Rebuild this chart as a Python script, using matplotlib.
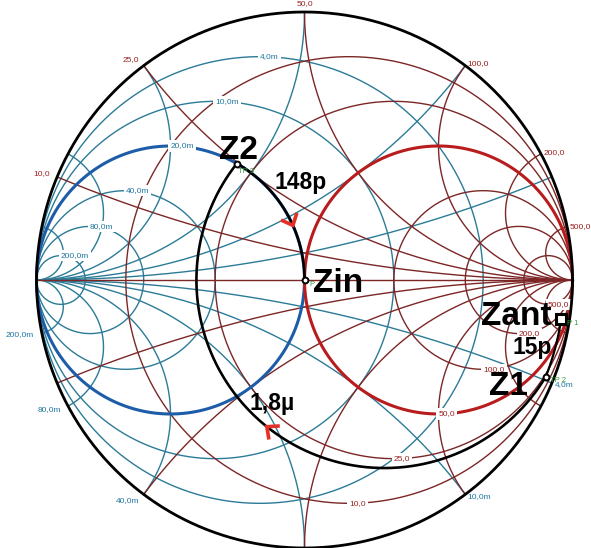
import numpy as np
import matplotlib
matplotlib.use("Agg")
import matplotlib.pyplot as plt

# ---------------- data ----------------
Z0 = 50.0                          # reference impedance, ohm
FREQ_HZ = 25e6                     # operating frequency
Z_ANT = complex(136.1, -640.7)     # antenna impedance, ohm

POINT_NAMES = ["Zant", "Z1", "Z2", "Zin"]
POINT_TAGS = ["P 1", "TP 2", "TP 3", "P"]
COMPONENT_TYPES = ["shunt_C", "series_L", "shunt_C"]
COMPONENT_VALUES = [15e-12, 1.8e-6, 148e-12]
COMPONENT_LABELS = ["15p", "1,8µ", "148p"]

GRID_R_OHM = [10.0, 25.0, 50.0, 100.0, 200.0, 500.0]
GRID_X_OHM = [10.0, 25.0, 50.0, 100.0, 200.0, 500.0]
GRID_G_MS = [4.0, 10.0, 20.0, 40.0, 80.0, 200.0]
GRID_B_MS = [4.0, 10.0, 20.0, 40.0, 80.0, 200.0]

# ---------------- style ----------------
RED = "#7c2626"
BLUE = "#2b7b97"
RED_LBL = "#9c2020"
BLUE_LBL = "#1f76a0"
RED_THICK = "#b81c1c"
BLUE_THICK = "#1d5ca8"
GREEN = "#3a9a3a"
ARROW = "#e5302a"
FONT = "Liberation Sans"

W, H = 591, 548
CX, CY, RAD = 304.5, 280.0, 268.0


def px(x, y):
    """pixel position -> chart (reflection coefficient) coordinates"""
    return (x - CX) / RAD, (CY - y) / RAD


def gz(z):
    return (z - 1) / (z + 1)


def gy(y):
    return (1 - y) / (1 + y)


def fmt(v, unit=""):
    return f"{v:.1f}".replace(".", ",") + unit


fig = plt.figure(figsize=(W / 100, H / 100), dpi=100)
ax = fig.add_axes([0, 0, 1, 1])
ax.set_xlim(-CX / RAD, (W - CX) / RAD)
ax.set_ylim(-(H - CY) / RAD, CY / RAD)
ax.set_aspect("equal")
ax.axis("off")

full = np.tan(np.linspace(-np.pi / 2 + 1e-4, np.pi / 2 - 1e-4, 3000))
half = np.tan(np.linspace(0, np.pi / 2 - 1e-4, 2000))

# ---------------- admittance grid ----------------
for gm in GRID_G_MS:
    gn = gm / 1000 * Z0
    c = gy(gn + 1j * full)
    thick = abs(gn - 1) < 1e-9
    ax.plot(c.real, c.imag, color=BLUE_THICK if thick else BLUE,
            lw=2.2 if thick else 1.0, zorder=2 if thick else 1, solid_capstyle="round")
for bm in GRID_B_MS:
    bn = bm / 1000 * Z0
    for s in (1, -1):
        c = gy(half + 1j * s * bn)
        ax.plot(c.real, c.imag, color=BLUE, lw=1.0, zorder=1)

# ---------------- impedance grid ----------------
for r in GRID_R_OHM:
    rn = r / Z0
    c = gz(rn + 1j * full)
    thick = abs(rn - 1) < 1e-9
    ax.plot(c.real, c.imag, color=RED_THICK if thick else RED,
            lw=2.2 if thick else 1.0, zorder=2.1 if thick else 1.1)
for x in GRID_X_OHM:
    xn = x / Z0
    for s in (1, -1):
        c = gz(half + 1j * s * xn)
        ax.plot(c.real, c.imag, color=RED, lw=1.0, zorder=1.1)
ax.plot([-1, 1], [0, 0], color=RED, lw=1.0, zorder=1.1)

# outer boundary
th = np.linspace(0, 2 * np.pi, 1000)
ax.plot(np.cos(th), np.sin(th), color="black", lw=2.0, zorder=4)

# ---------------- grid labels ----------------
box = dict(boxstyle="square,pad=0.25", fc="white", ec="none")
lbl = dict(fontsize=6.0, family=FONT, zorder=3)
for r in GRID_R_OHM:
    rn = r / Z0
    ax.text(rn / (1 + rn), -1 / (1 + rn), fmt(r), color=RED_LBL, ha="left",
            va="center", bbox=box, **lbl)
for gm in GRID_G_MS:
    gn = gm / 1000 * Z0
    ax.text(-gn / (1 + gn), 1 / (1 + gn), fmt(gm, "m"), color=BLUE_LBL, ha="left",
            va="center", bbox=box, **lbl)


def outer_label(p, text, color):
    gap = 8 if p.real < 0.5 else 3
    q = p * (1 + gap / RAD)
    if q.imag < -1.0:
        return
    ha = "right" if p.real < -0.15 else ("left" if p.real > 0.15 else "center")
    ax.text(q.real, q.imag, text, color=color, ha=ha, va="center", **lbl)


for x in GRID_X_OHM:
    outer_label(gz(1j * x / Z0), fmt(x), RED_LBL)
for bm in GRID_B_MS:
    outer_label(gy(1j * bm / 1000 * Z0), fmt(bm, "m"), BLUE_LBL)

# ---------------- matching path ----------------
w = 2 * np.pi * FREQ_HZ
z = Z_ANT / Z0
points = [z]
paths = []
t = np.linspace(0, 1, 500)
for kind, val in zip(COMPONENT_TYPES, COMPONENT_VALUES):
    if kind == "shunt_C":
        ys = 1 / z + 1j * w * val * Z0 * t
        trace = gy(ys)
        z = 1 / ys[-1]
    else:
        zs = z + 1j * w * val / Z0 * t
        trace = gz(zs)
        z = zs[-1]
    paths.append(trace)
    points.append(z)

for i, trace in enumerate(paths):
    ax.plot(trace.real, trace.imag, color="black", lw=1.9 if i else 1.6,
            zorder=5, solid_capstyle="round")


def chevron(trace, frac, size=13 / RAD, spread=np.deg2rad(42)):
    seg = np.abs(np.diff(trace))
    cum = np.concatenate([[0], np.cumsum(seg)])
    k = int(np.searchsorted(cum, frac * cum[-1]))
    k = min(max(k, 3), len(trace) - 4)
    p = trace[k]
    d = trace[k + 3] - trace[k - 3]
    d /= abs(d)
    a1 = p - size * d * np.exp(1j * spread)
    a2 = p - size * d * np.exp(-1j * spread)
    arm = np.array([a1, p, a2])
    ax.plot(arm.real, arm.imag, color=ARROW, lw=2.6, zorder=6,
            solid_capstyle="butt", solid_joinstyle="miter")


chevron(paths[1], 0.52)
chevron(paths[2], 0.60)

# markers
for name, zp in zip(POINT_NAMES, points):
    g = gz(zp)
    if name == "Zant":
        ax.plot(g.real, g.imag, marker="s", ms=6.5, mfc="white", mec="black",
                mew=2.2, zorder=7)
    else:
        ax.plot(g.real, g.imag, marker="o", ms=4.2, mfc="white", mec="black",
                mew=1.4, zorder=7)

# small point tags
tag_offsets = {"Zant": (6, 5), "Z1": (4, 4), "Z2": (1, 8), "Zin": (5, 5)}
for name, tag, zp in zip(POINT_NAMES, POINT_TAGS, points):
    g = gz(zp)
    dx, dy = tag_offsets[name]
    ax.text(g.real + dx / RAD, g.imag - dy / RAD, tag, color=GREEN, fontsize=5.5,
            family=FONT, ha="left", va="center", zorder=7)

# point and component labels (pixel centre x, baseline y)
big = dict(family=FONT, weight="bold", color="black", ha="center",
           va="baseline", zorder=8)
name_pos = {"Zant": (516, 325), "Z1": (508, 395), "Z2": (238.5, 159),
            "Zin": (338.5, 292)}
for name in POINT_NAMES:
    ax.text(*px(*name_pos[name]), name, fontsize=24, **big)

comp_pos = [(532.5, 354), (272.5, 410), (300.5, 189)]
for label, pos in zip(COMPONENT_LABELS, comp_pos):
    ax.text(*px(*pos), label, fontsize=16.5, **big)

fig.savefig("out.png", dpi=100, facecolor="white")
